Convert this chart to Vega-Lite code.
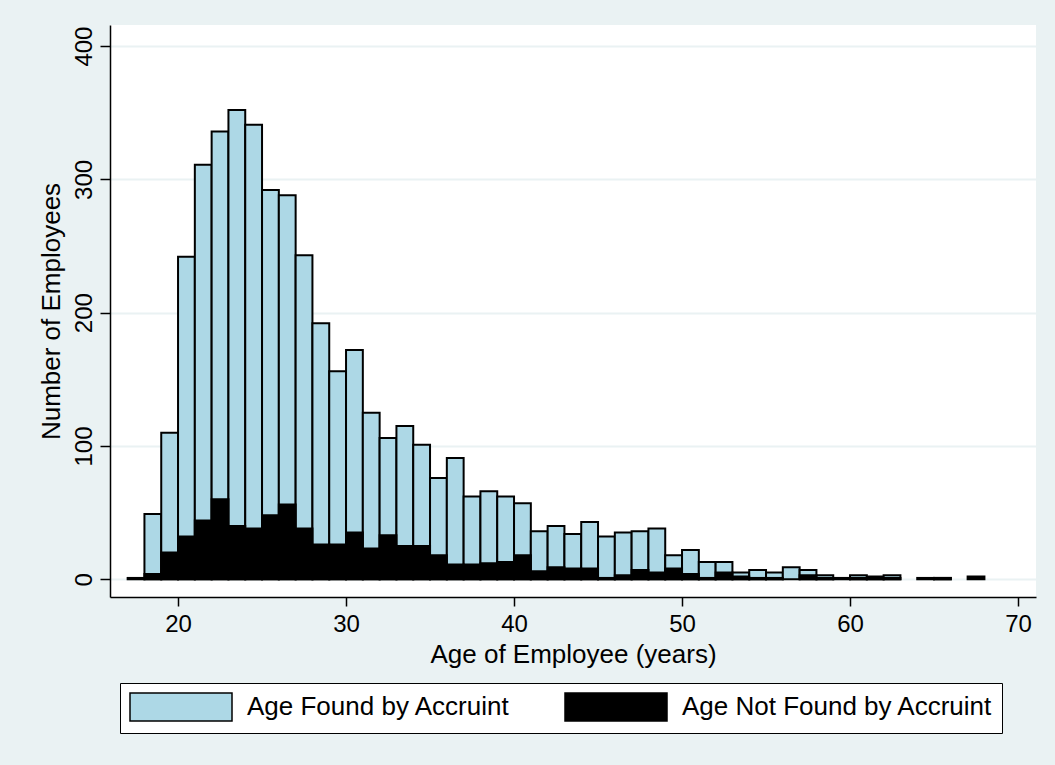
{
  "$schema": "https://vega.github.io/schema/vega-lite/v6.json",
  "width": 926,
  "height": 572,
  "autosize": {"type": "none"},
  "padding": {"left": 110, "top": 25, "right": 19, "bottom": 168},
  "background": "#eaf2f3",
  "config": {"view": {"fill": "white", "stroke": null}, "font": "Liberation Sans"},
  "data": {"values": [
    {"start": 18, "end": 19, "count": 49, "series": "Age Found by Accruint"},
    {"start": 19, "end": 20, "count": 110, "series": "Age Found by Accruint"},
    {"start": 20, "end": 21, "count": 242, "series": "Age Found by Accruint"},
    {"start": 21, "end": 22, "count": 311, "series": "Age Found by Accruint"},
    {"start": 22, "end": 23, "count": 336, "series": "Age Found by Accruint"},
    {"start": 23, "end": 24, "count": 352, "series": "Age Found by Accruint"},
    {"start": 24, "end": 25, "count": 341, "series": "Age Found by Accruint"},
    {"start": 25, "end": 26, "count": 292, "series": "Age Found by Accruint"},
    {"start": 26, "end": 27, "count": 288, "series": "Age Found by Accruint"},
    {"start": 27, "end": 28, "count": 243, "series": "Age Found by Accruint"},
    {"start": 28, "end": 29, "count": 192, "series": "Age Found by Accruint"},
    {"start": 29, "end": 30, "count": 156, "series": "Age Found by Accruint"},
    {"start": 30, "end": 31, "count": 172, "series": "Age Found by Accruint"},
    {"start": 31, "end": 32, "count": 125, "series": "Age Found by Accruint"},
    {"start": 32, "end": 33, "count": 106, "series": "Age Found by Accruint"},
    {"start": 33, "end": 34, "count": 115, "series": "Age Found by Accruint"},
    {"start": 34, "end": 35, "count": 101, "series": "Age Found by Accruint"},
    {"start": 35, "end": 36, "count": 76, "series": "Age Found by Accruint"},
    {"start": 36, "end": 37, "count": 91, "series": "Age Found by Accruint"},
    {"start": 37, "end": 38, "count": 62, "series": "Age Found by Accruint"},
    {"start": 38, "end": 39, "count": 66, "series": "Age Found by Accruint"},
    {"start": 39, "end": 40, "count": 62, "series": "Age Found by Accruint"},
    {"start": 40, "end": 41, "count": 57, "series": "Age Found by Accruint"},
    {"start": 41, "end": 42, "count": 36, "series": "Age Found by Accruint"},
    {"start": 42, "end": 43, "count": 40, "series": "Age Found by Accruint"},
    {"start": 43, "end": 44, "count": 34, "series": "Age Found by Accruint"},
    {"start": 44, "end": 45, "count": 43, "series": "Age Found by Accruint"},
    {"start": 45, "end": 46, "count": 32, "series": "Age Found by Accruint"},
    {"start": 46, "end": 47, "count": 35, "series": "Age Found by Accruint"},
    {"start": 47, "end": 48, "count": 36, "series": "Age Found by Accruint"},
    {"start": 48, "end": 49, "count": 38, "series": "Age Found by Accruint"},
    {"start": 49, "end": 50, "count": 18, "series": "Age Found by Accruint"},
    {"start": 50, "end": 51, "count": 22, "series": "Age Found by Accruint"},
    {"start": 51, "end": 52, "count": 13, "series": "Age Found by Accruint"},
    {"start": 52, "end": 53, "count": 13, "series": "Age Found by Accruint"},
    {"start": 53, "end": 54, "count": 5, "series": "Age Found by Accruint"},
    {"start": 54, "end": 55, "count": 7, "series": "Age Found by Accruint"},
    {"start": 55, "end": 56, "count": 5, "series": "Age Found by Accruint"},
    {"start": 56, "end": 57, "count": 9, "series": "Age Found by Accruint"},
    {"start": 57, "end": 58, "count": 7, "series": "Age Found by Accruint"},
    {"start": 58, "end": 59, "count": 3, "series": "Age Found by Accruint"},
    {"start": 60, "end": 61, "count": 3, "series": "Age Found by Accruint"},
    {"start": 61, "end": 62, "count": 2, "series": "Age Found by Accruint"},
    {"start": 62, "end": 63, "count": 3, "series": "Age Found by Accruint"},
    {"start": 65, "end": 66, "count": 1, "series": "Age Found by Accruint"},
    {"start": 17, "end": 18, "count": 1, "series": "Age Not Found by Accruint"},
    {"start": 18, "end": 19, "count": 4, "series": "Age Not Found by Accruint"},
    {"start": 19, "end": 20, "count": 20, "series": "Age Not Found by Accruint"},
    {"start": 20, "end": 21, "count": 32, "series": "Age Not Found by Accruint"},
    {"start": 21, "end": 22, "count": 44, "series": "Age Not Found by Accruint"},
    {"start": 22, "end": 23, "count": 60, "series": "Age Not Found by Accruint"},
    {"start": 23, "end": 24, "count": 40, "series": "Age Not Found by Accruint"},
    {"start": 24, "end": 25, "count": 38, "series": "Age Not Found by Accruint"},
    {"start": 25, "end": 26, "count": 48, "series": "Age Not Found by Accruint"},
    {"start": 26, "end": 27, "count": 56, "series": "Age Not Found by Accruint"},
    {"start": 27, "end": 28, "count": 38, "series": "Age Not Found by Accruint"},
    {"start": 28, "end": 29, "count": 26, "series": "Age Not Found by Accruint"},
    {"start": 29, "end": 30, "count": 26, "series": "Age Not Found by Accruint"},
    {"start": 30, "end": 31, "count": 35, "series": "Age Not Found by Accruint"},
    {"start": 31, "end": 32, "count": 23, "series": "Age Not Found by Accruint"},
    {"start": 32, "end": 33, "count": 33, "series": "Age Not Found by Accruint"},
    {"start": 33, "end": 34, "count": 25, "series": "Age Not Found by Accruint"},
    {"start": 34, "end": 35, "count": 25, "series": "Age Not Found by Accruint"},
    {"start": 35, "end": 36, "count": 18, "series": "Age Not Found by Accruint"},
    {"start": 36, "end": 37, "count": 11, "series": "Age Not Found by Accruint"},
    {"start": 37, "end": 38, "count": 11, "series": "Age Not Found by Accruint"},
    {"start": 38, "end": 39, "count": 12, "series": "Age Not Found by Accruint"},
    {"start": 39, "end": 40, "count": 13, "series": "Age Not Found by Accruint"},
    {"start": 40, "end": 41, "count": 18, "series": "Age Not Found by Accruint"},
    {"start": 41, "end": 42, "count": 6, "series": "Age Not Found by Accruint"},
    {"start": 42, "end": 43, "count": 9, "series": "Age Not Found by Accruint"},
    {"start": 43, "end": 44, "count": 8, "series": "Age Not Found by Accruint"},
    {"start": 44, "end": 45, "count": 8, "series": "Age Not Found by Accruint"},
    {"start": 45, "end": 46, "count": 1, "series": "Age Not Found by Accruint"},
    {"start": 46, "end": 47, "count": 3, "series": "Age Not Found by Accruint"},
    {"start": 47, "end": 48, "count": 7, "series": "Age Not Found by Accruint"},
    {"start": 48, "end": 49, "count": 5, "series": "Age Not Found by Accruint"},
    {"start": 49, "end": 50, "count": 8, "series": "Age Not Found by Accruint"},
    {"start": 50, "end": 51, "count": 4, "series": "Age Not Found by Accruint"},
    {"start": 51, "end": 52, "count": 1, "series": "Age Not Found by Accruint"},
    {"start": 52, "end": 53, "count": 5, "series": "Age Not Found by Accruint"},
    {"start": 53, "end": 54, "count": 2, "series": "Age Not Found by Accruint"},
    {"start": 54, "end": 55, "count": 1, "series": "Age Not Found by Accruint"},
    {"start": 55, "end": 56, "count": 1, "series": "Age Not Found by Accruint"},
    {"start": 57, "end": 58, "count": 3, "series": "Age Not Found by Accruint"},
    {"start": 58, "end": 59, "count": 1, "series": "Age Not Found by Accruint"},
    {"start": 59, "end": 60, "count": 1, "series": "Age Not Found by Accruint"},
    {"start": 60, "end": 61, "count": 1, "series": "Age Not Found by Accruint"},
    {"start": 61, "end": 62, "count": 1, "series": "Age Not Found by Accruint"},
    {"start": 62, "end": 63, "count": 1, "series": "Age Not Found by Accruint"},
    {"start": 64, "end": 65, "count": 1, "series": "Age Not Found by Accruint"},
    {"start": 65, "end": 66, "count": 1, "series": "Age Not Found by Accruint"},
    {"start": 67, "end": 68, "count": 2, "series": "Age Not Found by Accruint"}
  ]},
  "mark": {"type": "bar", "stroke": "black", "strokeWidth": 2},
  "encoding": {
    "x": {
      "field": "start", "type": "quantitative",
      "scale": {"domain": [15.95, 71.07], "nice": false, "zero": false},
      "axis": {
        "values": [20, 30, 40, 50, 60, 70], "grid": false,
        "domainColor": "black", "domainWidth": 1.5,
        "tickColor": "black", "tickSize": 9, "tickWidth": 1.5,
        "labelFontSize": 24, "labelColor": "black", "labelPadding": 6,
        "title": "Age of Employee (years)", "titleFontSize": 26, "titleFontWeight": "normal",
        "titleColor": "black", "titlePadding": 5
      }
    },
    "x2": {"field": "end"},
    "y": {
      "field": "count", "type": "quantitative",
      "scale": {"domain": [-13.3, 415.8], "nice": false, "zero": false},
      "axis": {
        "values": [0, 100, 200, 300, 400], "grid": true, "gridColor": "#eaf2f3", "gridWidth": 2,
        "domainColor": "black", "domainWidth": 1.5,
        "tickColor": "black", "tickSize": 10, "tickWidth": 1.5,
        "labelAngle": -90, "labelAlign": "center", "labelBaseline": "bottom",
        "labelFontSize": 24, "labelColor": "black", "labelPadding": 4,
        "title": "Number of Employees", "titleFontSize": 26, "titleFontWeight": "normal",
        "titleColor": "black", "titlePadding": 8
      }
    },
    "y2": {"datum": 0},
    "fill": {
      "field": "series", "type": "nominal",
      "scale": {"domain": ["Age Found by Accruint", "Age Not Found by Accruint"], "range": ["#add8e6", "#000000"]},
      "legend": {
        "orient": "none", "legendX": 10, "legendY": 658, "direction": "horizontal",
        "title": null,
        "symbolType": "M-1,-1H6.286V1H-1Z", "symbolSize": 784,
        "symbolStrokeColor": "black", "symbolStrokeWidth": 1.5,
        "labelFontSize": 26, "labelColor": "black", "labelOffset": 88, "labelLimit": 500,
        "columnPadding": 51, "padding": 9,
        "fillColor": "white", "strokeColor": "black"
      }
    }
  }
}
